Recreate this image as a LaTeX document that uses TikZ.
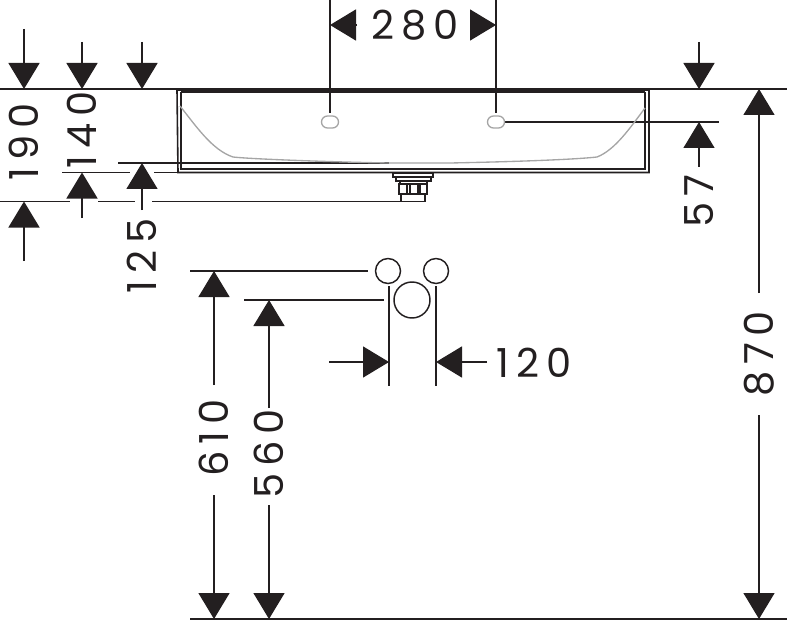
\documentclass[tikz,border=0pt]{standalone}
\usepackage{fontspec}
\setmainfont[LetterSpace=17]{Poppins}
\usetikzlibrary{arrows.meta}
\definecolor{inkdark}{HTML}{231F20}
\definecolor{basingrey}{HTML}{A5A5A5}
\tikzset{
  dimline/.style={draw=inkdark,line width=1.1pt},
  dimarrow/.style={dimline,-{Triangle[length=19.5pt,width=23.25pt,fill=inkdark]}},
  basinline/.style={draw=inkdark,line width=1.2pt},
  dimtext/.style={text=inkdark,font=\fontsize{30}{30}\selectfont,inner sep=0pt}
}
\begin{document}
\begin{tikzpicture}[x=0.75pt,y=0.75pt,yscale=-1,xscale=1]
\useasboundingbox (0,0) rectangle (787,620);

%Extension lines
\draw [dimline] (0,89) -- (787,89);
\draw [dimline] (118,163) -- (389,163);
\draw [dimline] (62,172.5) -- (130,172.5);
\draw [dimline] (154,172.5) -- (180,172.5);
\draw [dimline] (0,201.5) -- (70,201.5);
\draw [dimline] (98,201.5) -- (135,201.5);
\draw [dimline] (152,201.5) -- (401,201.5);
\draw [dimline] (330,0) -- (330,113);
\draw [dimline] (496,0) -- (496,113);
\draw [dimline] (504,122) -- (719,122);
\draw [dimline] (190,271) -- (368,271);
\draw [dimline] (244,300) -- (384,300);
\draw [dimline] (389,286) -- (389,386);
\draw [dimline] (436,286) -- (436,386);
\draw [dimline] (190,619) -- (787,619);

%Basin
\draw [basinline,line width=1.8pt] (177,90) -- (649,90);
\draw [basinline] (181,92) -- (645,92);
\draw [basinline] (177,90) -- (178,172.5) -- (649,172.5) -- (649,90);
\draw [basinline] (181,92) -- (181,169) -- (645,169) -- (645,92);
\draw [basingrey,line width=1pt] (180,106) .. controls (196,126) and (212,150) .. (233,157) .. controls (250,159) and (330,162) .. (389,163) -- (450,163) .. controls (500,162) and (570,160) .. (597,157) .. controls (615,150) and (630,128) .. (645,108);
\draw [basingrey,line width=1pt,rounded corners=4.5pt] (321.5,116) rectangle (338.5,128);
\draw [basingrey,line width=1pt,rounded corners=4.5pt] (487.5,116) rectangle (504.5,128);

%Drain
\draw [basinline] (393,173) -- (433,173) -- (433,177) -- (393,177) -- cycle;
\draw [basinline] (396,177) -- (396,181) -- (431,181) -- (431,177);
\draw [basinline] (400,181) -- (400,184) -- (427,184) -- (427,181);
\draw [basinline] (399,184) rectangle (427,194);
\draw [basinline] (407,184) -- (407,194);
\draw [basinline] (410,184) -- (410,194);
\draw [basinline] (418,184) -- (418,194);
\draw [basinline] (420,184) -- (420,194);
\draw [basinline] (401,194) rectangle (425,201.5);

%Connection circles
\draw [dimline] (388,271) circle (12.5);
\draw [dimline] (436,271) circle (12.5);
\draw [dimline] (412,300) circle (18);

%Arrows
\draw [dimarrow] (24,29) -- (24,89);
\draw [dimarrow] (82,42) -- (82,89);
\draw [dimarrow] (142,42) -- (142,89);
\draw [dimarrow] (699,42) -- (699,89);
\draw [dimarrow] (24,261) -- (24,201.5);
\draw [dimarrow] (82,218) -- (82,172.5);
\draw [dimarrow] (142,210) -- (142,163);
\draw [dimarrow] (699,167) -- (699,122);
\draw [dimarrow] (357,25) -- (330,25);
\draw [dimarrow] (470,25) -- (496,25);
\draw [dimarrow] (329,362) -- (389,362);
\draw [dimarrow] (487,362) -- (436,362);
\draw [dimarrow] (214,385) -- (214,271);
\draw [dimarrow] (214,495) -- (214,619);
\draw [dimarrow] (269,408) -- (269,300);
\draw [dimarrow] (269,505) -- (269,619);
\draw [dimarrow] (759,293) -- (759,89);
\draw [dimarrow] (759,415) -- (759,619);

% Text Node
\node [dimtext] (lbl280) at (415,25) {280};
\node [dimtext] (lbl120) at (534,363) {120};
\node [dimtext,rotate=90] (lbl190) at (24,142) {190};
\node [dimtext,rotate=90] (lbl140) at (82,130) {140};
\node [dimtext,rotate=90] (lbl125) at (142,256) {125};
\node [dimtext,rotate=90] (lbl57) at (699,201) {57};
\node [dimtext,rotate=90] (lbl610) at (214,438) {610};
\node [dimtext,rotate=90] (lbl560) at (269,454) {560};
\node [dimtext,rotate=90] (lbl870) at (759,354) {870};

\end{tikzpicture}
\end{document}
